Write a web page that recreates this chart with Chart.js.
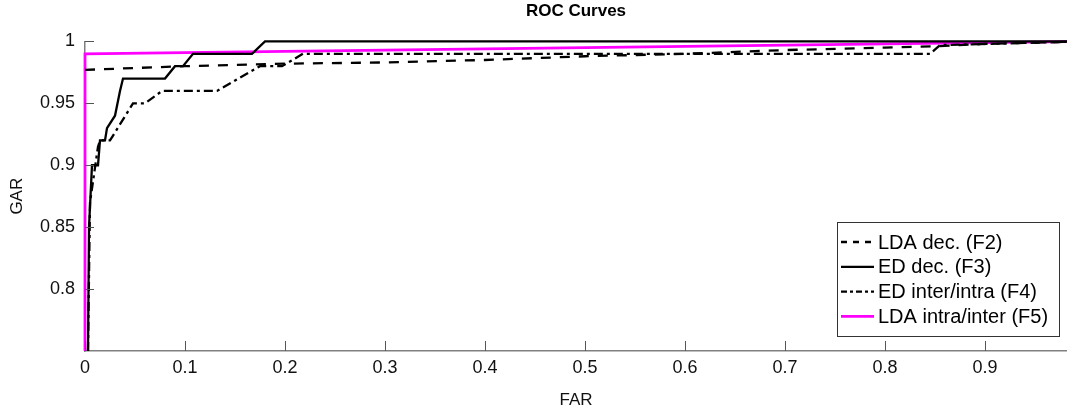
<!DOCTYPE html>
<html>
<head>
<meta charset="utf-8">
<script src="https://cdn.jsdelivr.net/npm/chart.js@4"></script>
<style>
  html, body { margin: 0; padding: 0; background: #fff; }
  #wrap { width: 1067px; height: 409px; }
</style>
</head>
<body>
<div id="wrap"><canvas id="myChart" width="1067" height="409"></canvas></div>
<script>
// data
const ldaDecFar = [0, 0.1, 0.2, 0.3, 0.4, 0.5, 0.6, 0.7, 0.8, 0.85, 0.9, 1];
const ldaDecGar = [0.977, 0.980, 0.982, 0.983, 0.985, 0.988, 0.990, 0.993, 0.995, 0.996, 0.998, 1];

const edDecFar = [0.003, 0.004, 0.007, 0.013, 0.015, 0.02, 0.022, 0.03, 0.035, 0.038, 0.08, 0.09, 0.098, 0.108, 0.167, 0.18, 1];
const edDecGar = [0.75, 0.85, 0.9, 0.9, 0.92, 0.92, 0.93, 0.94, 0.96, 0.97, 0.97, 0.98, 0.98, 0.99, 0.99, 1, 1];

const edInterFar = [0.003, 0.005, 0.013, 0.015, 0.025, 0.048, 0.06, 0.077, 0.132, 0.175, 0.197, 0.218, 0.845, 0.855, 1];
const edInterGar = [0.75, 0.87, 0.915, 0.92, 0.92, 0.95, 0.95, 0.96, 0.96, 0.98, 0.98, 0.99, 0.99, 0.997, 1];

const ldaIntraFar = [0, 0, 1];
const ldaIntraGar = [0.75, 0.99, 1];

const seriesNames = ['LDA dec. (F2)', 'ED dec. (F3)', 'ED inter/intra (F4)', 'LDA intra/inter (F5)'];

const xTickVals = [0, 0.1, 0.2, 0.3, 0.4, 0.5, 0.6, 0.7, 0.8, 0.9];
const xTickLabels = ['0', '0.1', '0.2', '0.3', '0.4', '0.5', '0.6', '0.7', '0.8', '0.9'];
const yTickVals = [0.8, 0.85, 0.9, 0.95, 1];
const yTickLabels = ['0.8', '0.85', '0.9', '0.95', '1'];

const FONT = "'Liberation Sans', Arial, Helvetica, sans-serif";

function pts(xs, ys) {
    return xs.map((x, i) => ({x: x, y: ys[i]}));
}

const lineClip = {left: 3, top: 3, right: 0, bottom: 0};

const data = {
    datasets: [{
        label: seriesNames[0],
        data: pts(ldaDecFar, ldaDecGar),
        borderColor: '#000',
        borderWidth: 2.3,
        borderDash: [10, 9]
    }, {
        label: seriesNames[1],
        data: pts(edDecFar, edDecGar),
        borderColor: '#000',
        borderWidth: 2.3
    }, {
        label: seriesNames[2],
        data: pts(edInterFar, edInterGar),
        borderColor: '#000',
        borderWidth: 2.3,
        borderDash: [9, 4, 3, 4]
    }, {
        label: seriesNames[3],
        data: pts(ldaIntraFar, ldaIntraGar),
        borderColor: '#ff00ff',
        borderWidth: 2.8
    }]
};
data.datasets.forEach(ds => {
    ds.pointRadius = 0;
    ds.tension = 0;
    ds.clip = lineClip;
});

// ticks drawn inward like matlab + the boxed legend
const matlabBits = {
    id: 'matlabBits',
    afterDatasetsDraw(chart) {
        const ctx = chart.ctx;
        const area = chart.chartArea;
        const xs = chart.scales.x;
        const ys = chart.scales.y;
        ctx.save();
        ctx.strokeStyle = '#555';
        ctx.lineWidth = 1;
        ctx.beginPath();
        xTickVals.forEach(v => {
            const px = Math.round(xs.getPixelForValue(v)) + 0.5;
            ctx.moveTo(px, area.bottom);
            ctx.lineTo(px, area.bottom - 10);
        });
        yTickVals.forEach(v => {
            const py = Math.round(ys.getPixelForValue(v)) + 0.5;
            ctx.moveTo(area.left, py);
            ctx.lineTo(area.left + 9, py);
        });
        ctx.stroke();

        // legend box
        const w = 222, h = 114;
        const left = area.right - 8 - w;
        const top = area.bottom - 15 - h;
        ctx.fillStyle = '#fff';
        ctx.fillRect(left, top, w, h);
        ctx.strokeStyle = '#333';
        ctx.lineWidth = 1;
        ctx.strokeRect(left + 0.5, top + 0.5, w, h);

        ctx.font = '20px ' + FONT;
        ctx.textBaseline = 'middle';
        ctx.textAlign = 'left';
        chart.data.datasets.forEach((ds, i) => {
            const y = top + 20 + i * 24.8;
            ctx.beginPath();
            ctx.strokeStyle = ds.borderColor;
            ctx.lineWidth = ds.borderWidth;
            ctx.setLineDash(ds.borderDash ? [6, 6] : []);
            if (i === 2) ctx.setLineDash([6, 3, 3, 3]);
            ctx.moveTo(left + 4, y);
            ctx.lineTo(left + 37, y);
            ctx.stroke();
            ctx.setLineDash([]);
            ctx.fillStyle = '#000';
            ctx.fillText(ds.label, left + 41, y + 1);
        });
        ctx.restore();
    }
};

const config = {
    type: 'line',
    data,
    options: {
        responsive: false,
        animation: false,
        layout: {padding: {left: 0, right: 0, top: 0, bottom: 0}},
        plugins: {
            legend: {display: false},
            tooltip: {enabled: false},
            title: {
                display: true,
                fullSize: false,
                text: 'ROC Curves',
                color: '#000',
                font: {family: FONT, size: 17, weight: 'bold'},
                padding: {top: 1, bottom: 20}
            }
        },
        scales: {
            x: {
                type: 'linear',
                min: 0,
                max: 0.982,
                afterBuildTicks: (scale) => { scale.ticks = xTickVals.map(v => ({value: v})); },
                afterFit: (scale) => { scale.height = 58; },
                grid: {display: false, drawTicks: false},
                border: {display: true, color: '#808080', width: 1.5},
                ticks: {
                    color: '#111',
                    font: {family: FONT, size: 18},
                    padding: 6,
                    maxRotation: 0,
                    autoSkip: false,
                    callback: (v, i) => xTickLabels[i]
                },
                title: {
                    display: true,
                    text: 'FAR',
                    color: '#111',
                    font: {family: FONT, size: 17},
                    padding: {top: 0, bottom: -2}
                }
            },
            y: {
                type: 'linear',
                min: 0.75,
                max: 1,
                afterBuildTicks: (scale) => { scale.ticks = yTickVals.map(v => ({value: v})); },
                afterFit: (scale) => { scale.width = 85; },
                grid: {display: false, drawTicks: false},
                border: {display: true, color: '#808080', width: 1.5},
                ticks: {
                    color: '#111',
                    font: {family: FONT, size: 18},
                    padding: 10,
                    autoSkip: false,
                    callback: (v, i) => yTickLabels[i]
                },
                title: {
                    display: true,
                    text: 'GAR',
                    color: '#111',
                    font: {family: FONT, size: 17},
                    padding: {top: 7, bottom: 0}
                }
            }
        }
    },
    plugins: [matlabBits]
};

const myChart = new Chart(document.getElementById('myChart'), config);
</script>
</body>
</html>
